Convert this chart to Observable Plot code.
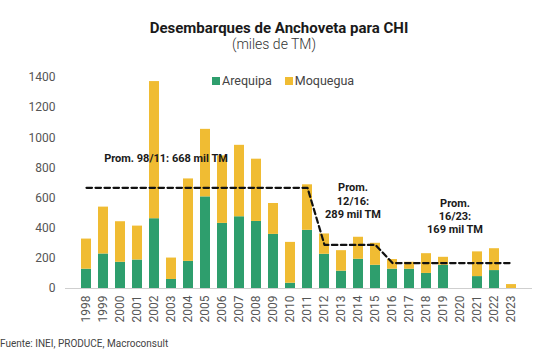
<!DOCTYPE html>
<html>
<head>
<meta charset="utf-8">
<script src="https://cdn.jsdelivr.net/npm/d3@7"></script>
<script src="https://cdn.jsdelivr.net/npm/@observablehq/plot@0.6"></script>
<style>
  html, body { margin: 0; padding: 0; background: #fff; }
  body { width: 544px; height: 354px; position: relative; overflow: hidden; font-family: Roboto, "Noto Sans", sans-serif; }
  #title { position: absolute; top: 20px; left: 0; width: 558px; text-align: center; font-weight: 700; font-size: 15px; line-height: 16px; color: #1a1a1a; }
  #subtitle { position: absolute; top: 37px; left: 0; width: 548px; text-align: center; font-weight: 300; font-size: 14px; line-height: 14px; color: #333; }
  #legend { position: absolute; top: 73px; left: 212px; font-size: 12.5px; color: #444; display: flex; align-items: center; }
  #legend .sw { display: inline-block; width: 8px; height: 8px; margin-right: 2px; }
  #legend .item { display: flex; align-items: center; margin-right: 13px; }
  #chart { position: absolute; top: 60px; left: 0; }
  #footer { position: absolute; top: 338px; left: 0; font-size: 10px; color: #444; }
</style>
</head>
<body>
<div id="title">Desembarques de Anchoveta para CHI</div>
<div id="subtitle">(miles de TM)</div>
<div id="legend"></div>
<div id="chart"></div>
<div id="footer">Fuente: INEI, PRODUCE, Macroconsult</div>
<script>
const years = ["1998","1999","2000","2001","2002","2003","2004","2005","2006","2007","2008","2009","2010","2011","2012","2013","2014","2015","2016","2017","2018","2019","2020","2021","2022","2023"];
const arequipa = [128,229,174,189,463,60,180,608,432,476,445,359,35,386,227,115,194,154,128,128,100,154,0,79,119,0];
const moquegua = [200,311,269,225,910,142,547,448,448,474,413,205,271,302,135,136,146,146,64,46,131,53,0,164,145,26];
const seriesNames = ["Arequipa","Moquegua"];
const seriesColors = ["#2e9e6d","#f0bc33"];
const yTicks = [0,200,400,600,800,1000,1200,1400];

const avgYears = ["1998","2011","2012","2015","2016","2023"];
const avgValues = [668,668,289,289,169,169];

const notes = [
  {year: "2003", value: 862, text: "Prom. 98/11: 668 mil TM"},
  {year: "2014", value: 582, text: "Prom.\n12/16:\n289 mil TM"},
  {year: "2020", value: 478, text: "Prom.\n16/23:\n169 mil TM"}
];

const rows = [];
years.forEach((y, i) => {
  rows.push({year: y, region: seriesNames[0], value: arequipa[i]});
  rows.push({year: y, region: seriesNames[1], value: moquegua[i]});
});
const avg = avgYears.map((y, i) => ({year: y, value: avgValues[i]}));

// legend
const leg = document.getElementById("legend");
seriesNames.forEach((n, i) => {
  const it = document.createElement("span");
  it.className = "item";
  it.innerHTML = `<span class="sw" style="background:${seriesColors[i]}"></span>${n}`;
  leg.appendChild(it);
});

const chart = Plot.plot({
  width: 544,
  height: 280,
  marginLeft: 65,
  marginRight: 12,
  marginTop: 17,
  marginBottom: 52,
  style: {fontFamily: "Roboto, sans-serif", fontSize: "12px", color: "#555", background: "transparent"},
  x: {domain: years, padding: 0.433, label: null, tickSize: 0, tickPadding: 7, tickRotate: -90},
  y: {domain: [0, 1400], ticks: yTicks, tickFormat: d => String(d), label: null, tickSize: 0, tickPadding: 10},
  color: {domain: seriesNames, range: seriesColors},
  marks: [
    Plot.barY(rows, {x: "year", y: "value", fill: "region", order: seriesNames}),
    Plot.ruleY([0], {stroke: "#cfcfcf", strokeWidth: 1}),
    Plot.lineY(avg, {x: "year", y: "value", stroke: "#111", strokeWidth: 2.2, strokeDasharray: "5.5,3.5"}),
    Plot.text(notes, {x: "year", y: "value", text: "text", dx: [5, -2, -2], fontWeight: "bold", fontSize: 11, fill: "#1a1a1a", lineHeight: 1.2, textAnchor: "middle"})
  ]
});
document.getElementById("chart").appendChild(chart);
</script>
</body>
</html>
